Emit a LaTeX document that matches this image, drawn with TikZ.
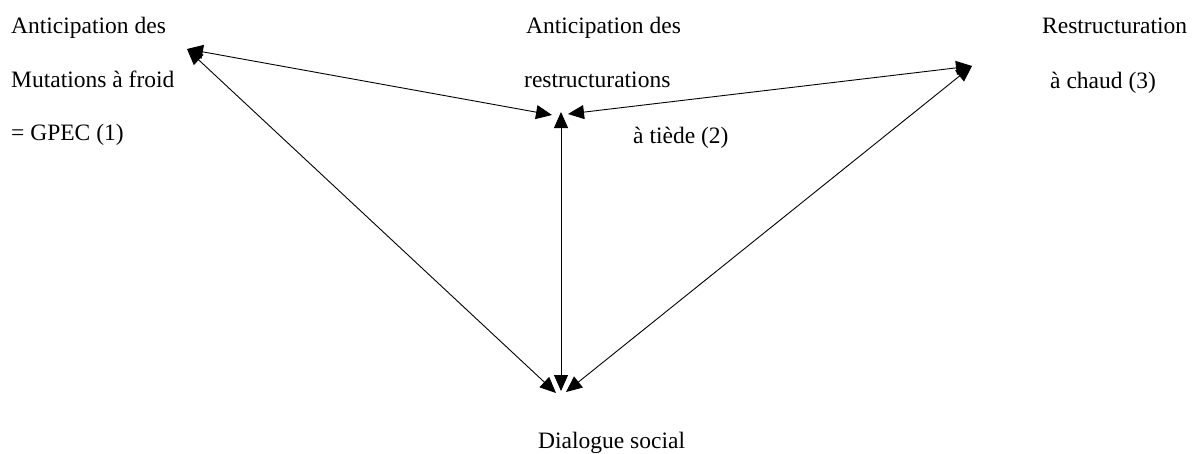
\documentclass[tikz,border=0pt]{standalone}
\usepackage{fontspec}
\setmainfont{Liberation Serif}
\usetikzlibrary{arrows.meta}
\begin{document}
\begin{tikzpicture}[x=1pt,y=-1pt,
  lbl/.style={anchor=base west,inner sep=0pt,font=\fontsize{23.5}{28}\selectfont},
  link/.style={line width=0.9pt,{Triangle[length=16pt,width=14pt]}-{Triangle[length=16pt,width=14pt]}}]
\useasboundingbox (0,0) rectangle (1193,453);
% texts
\node[lbl] (l1) at (11,33) {Anticipation des};
\node[lbl] (l2) at (11,87) {Mutations à froid};
\node[lbl] (l3) at (11,140) {= GPEC (1)};
\node[lbl] (m1) at (526,33) {Anticipation des};
\node[lbl] (m2) at (524,87) {restructurations};
\node[lbl] (m3) at (633,143) {à tiède (2)};
\node[lbl] (r1) at (1042,33) {Restructuration};
\node[lbl] (r2) at (1050,88) {à chaud (3)};
\node[lbl] (b1) at (538,448) {Dialogue social};
% end points
\coordinate (L) at (187,49);
\coordinate (R) at (972,66);
\coordinate (ML) at (552,115);
\coordinate (MR) at (568,114);
\coordinate (MV) at (561,112);
\coordinate (BL) at (556,393);
\coordinate (BV) at (561,391);
\coordinate (BR) at (566,392);
% connectors
\draw[link] (L) -- (ML);
\draw[link] (MR) -- (R);
\draw[link] (MV) -- (BV);
\draw[link] (L) -- (BL);
\draw[link] (R) -- (BR);
\end{tikzpicture}
\end{document}
